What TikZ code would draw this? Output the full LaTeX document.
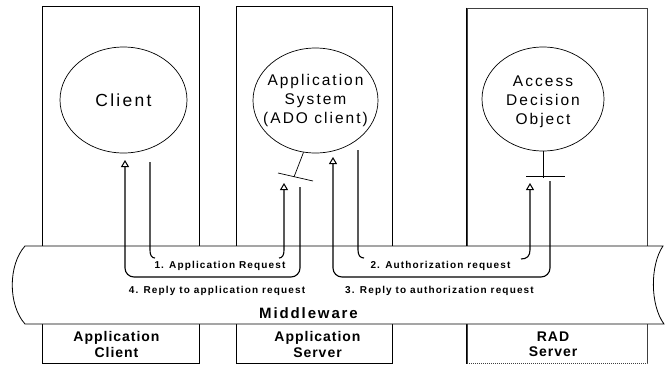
\documentclass[tikz,border=0pt]{standalone}
\usepackage{fontspec}
\setmainfont{Liberation Sans}
\newfontfamily\ellfont[LetterSpace=13]{Liberation Sans}
\newfontfamily\labfont[LetterSpace=11.5]{Liberation Sans}
\newfontfamily\midfont[LetterSpace=12.5]{Liberation Sans}
\newfontfamily\colfont[LetterSpace=7]{Liberation Sans}
\usetikzlibrary{shapes.geometric,arrows.meta}
\tikzset{
  col/.style={draw, line width=0.8pt, minimum width=157pt, minimum height=357.5pt, inner sep=0pt},
  ell/.style={draw, ellipse, line width=0.7pt, minimum width=127pt, minimum height=106pt, inner sep=0pt},
  elltext/.style={align=center, inner sep=0pt, font=\ellfont\fontsize{15.5}{19}\selectfont},
  bandlab/.style={anchor=base, inner sep=0pt, font=\labfont\bfseries\fontsize{10}{12}\selectfont},
  collab/.style={align=center, inner sep=0pt, font=\colfont\bfseries\fontsize{14}{15.6}\selectfont},
  conn/.style={line width=1.1pt},
  opentip/.style={-{Triangle[open,width=8pt,length=7pt,line width=1pt]}},
  tbar/.style={line width=0.7pt}
}
\begin{document}
\begin{tikzpicture}[x=1pt,y=-1pt]
\useasboundingbox (0,0) rectangle (665,365);
% columns
\node[col] (colA) at (120.5,184.75) {};
\node[col, minimum width=156.5pt] (colB) at (314.25,184.75) {};
\node[col, minimum width=180pt, minimum height=355.5pt, draw=black!75, dash pattern=on 1.2pt off 0.8pt] (colC) at (557,185.75) {};
\draw[line width=0.8pt] (colC.north west) -- (colC.south west);
% ellipses
\node[ell] (client) at (123.5,100) {};
\node[elltext, font=\ellfont\fontsize{17.5}{20}\selectfont] at (client) {Client};
\node[ell, minimum width=125pt, minimum height=105pt] (appsys) at (315.5,100.5) {};
\node[elltext] at (appsys) {Application\\System\\(ADO client)};
\node[ell, minimum width=122pt, minimum height=104pt] (ado) at (543,99) {};
\node[elltext, yshift=-2.5pt] at (ado) {Access\\Decision\\Object};
% interface bars
\coordinate (appstem) at (294,177);
\coordinate (appbarL) at (278,173);
\coordinate (appbarR) at (313,181);
\draw[tbar] (appsys.south) ++(-12,-1) -- (appstem);
\draw[tbar] (appbarL) -- (appbarR);
\coordinate (adostem) at (543,178);
\coordinate (adobarL) at (526,176);
\coordinate (adobarR) at (565,176);
\draw[tbar] (ado.south) -- (adostem);
\draw[tbar] (adobarL) -- (adobarR);
% middleware band
\draw[line width=0.8pt, fill=white] (25,246) -- (663,246)
  .. controls (650,265) and (650,305) .. (664,324) -- (25,324)
  .. controls (8,305) and (8,265) .. cycle;
\node[anchor=base, inner sep=0pt, font=\midfont\bfseries\fontsize{15}{18}\selectfont] (mw) at (308.5,318) {Middleware};
% labels in band
\node[bandlab] (l1) at (220,268.7) {1. Application Request};
\node[bandlab] (l2) at (440.5,268.7) {2. Authorization request};
\node[bandlab] (l3) at (439.5,293) {3. Reply to authorization request};
\node[bandlab] (l4) at (217,293) {4. Reply to application request};
% column labels
\node[collab] (lbA) at (116.5,344.4) {Application\\Client};
\node[collab] (lbB) at (317.5,344.4) {Application\\Server};
\node[collab] (lbC) at (553,344.4) {RAD\\Server};
% connectors
\coordinate (c1s) at (150,162);
\coordinate (c1h) at (155,258);
\coordinate (c1k) at (279,258);
\coordinate (c1e) at (284,183);
\draw[conn] (c1s) -- (150,250) .. controls (150,255) and (151.5,258) .. (c1h);
\draw[conn,opentip] (c1k) .. controls (282.5,258) and (284,255) .. (284,250) -- (c1e);
\coordinate (c2s) at (358,150);
\coordinate (c2h) at (364,258);
\coordinate (c2k) at (521,259);
\coordinate (c2e) at (530,183);
\draw[conn] (c2s) -- (358,250) .. controls (358,255) and (360,258) .. (c2h);
\draw[conn,opentip] (c2k) .. controls (527,259) and (530,256) .. (530,250) -- (c2e);
\coordinate (c3s) at (550,181);
\coordinate (c3e) at (333,157);
\draw[conn,opentip,rounded corners=9pt] (c3s) -- ++(0,96) -| (c3e);
\coordinate (c4s) at (300,187);
\coordinate (c4e) at (125,160);
\draw[conn,opentip,rounded corners=9pt] (c4s) -- ++(0,90) -| (c4e);
\end{tikzpicture}
\end{document}
